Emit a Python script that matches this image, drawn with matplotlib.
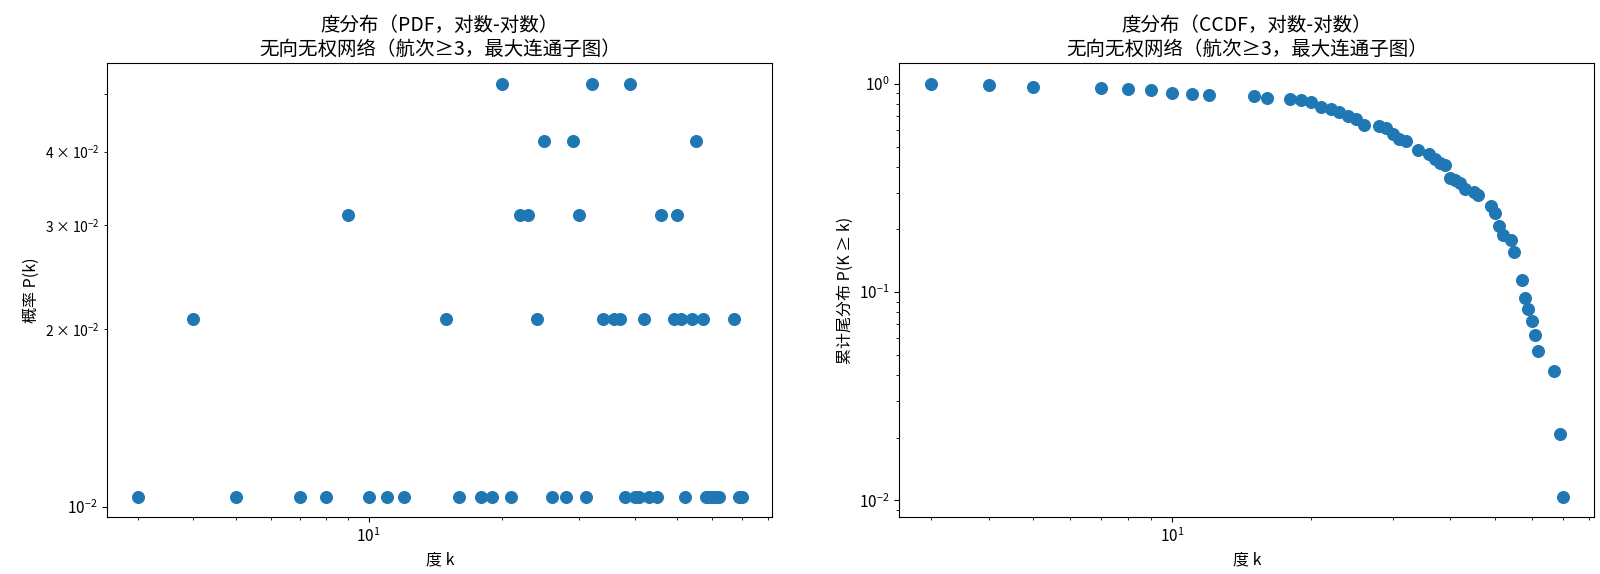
import numpy as np
import matplotlib
matplotlib.use("Agg")
import matplotlib.pyplot as plt

plt.rcParams['font.family'] = ['Noto Sans CJK JP', 'DejaVu Sans']
plt.rcParams['axes.unicode_minus'] = False

# 度值及对应节点数（共 96 个节点）
degrees = [3, 4, 5, 7, 8, 9, 10, 11, 12, 15, 16, 18, 19, 20, 21, 22, 23, 24,
           25, 26, 28, 29, 30, 31, 32, 34, 36, 37, 38, 39, 40, 41, 42, 43, 45,
           46, 49, 50, 51, 52, 54, 55, 57, 58, 59, 60, 61, 62, 67, 69, 70]
counts = [1, 2, 1, 1, 1, 3, 1, 1, 1, 2, 1, 1, 1, 5, 1, 3, 3, 2,
          4, 1, 1, 4, 3, 1, 5, 2, 2, 2, 1, 5, 1, 1, 2, 1, 1,
          3, 2, 3, 2, 1, 2, 4, 2, 1, 1, 1, 1, 1, 2, 1, 1]

k = np.array(degrees)
n = np.array(counts)
pdf = n / n.sum()
ccdf = n[::-1].cumsum()[::-1] / n.sum()

fig, (ax1, ax2) = plt.subplots(1, 2, figsize=(16, 5.74), dpi=100)

ax1.scatter(k, pdf, s=70, color='#1f77b4')
ax1.set_xscale('log')
ax1.set_yscale('log')
ax1.set_title("度分布（PDF，对数-对数）\n无向无权网络（航次≥3，最大连通子图）", fontsize=14)
ax1.set_xlabel("度 k", fontsize=11.5)
ax1.set_ylabel("概率 P(k)", fontsize=11.5)
ax1.tick_params(labelsize=11)

ax2.scatter(k, ccdf, s=70, color='#1f77b4')
ax2.set_xscale('log')
ax2.set_yscale('log')
ax2.set_title("度分布（CCDF，对数-对数）\n无向无权网络（航次≥3，最大连通子图）", fontsize=14)
ax2.set_xlabel("度 k", fontsize=11.5)
ax2.set_ylabel("累计尾分布 P(K ≥ k)", fontsize=11.5)
ax2.tick_params(labelsize=11)

# 两个子图的位置
ax1.set_position([107.3 / 1600, 1 - 517.3 / 574, 665 / 1600, 454 / 574])
ax2.set_position([899.3 / 1600, 1 - 517.3 / 574, 695 / 1600, 454 / 574])

plt.savefig("out.png", dpi=100)
